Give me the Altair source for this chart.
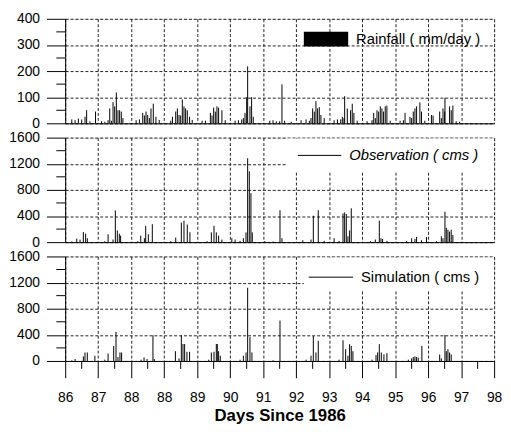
import json
import altair as alt
import pandas as pd

# ---------------- data ----------------
X_LABELS = ["86", "87", "88", "88", "89", "90", "91", "92", "93", "94", "95", "96", "97", "98"]
X_MAJOR = [0, 1, 2, 3, 4, 5, 6, 7, 8, 9, 10, 11, 12, 13]
X_MINOR = [0.5, 1.5, 2.5, 3.5, 4.5, 5.5, 6.5, 7.5, 8.5, 9.5, 10.5, 11.5, 12.5]

RAIN_Y_TICKS = [0, 100, 200, 300, 400]
RAIN_Y_MINOR = [50, 150, 250, 350]
FLOW_Y_TICKS = [0, 400, 800, 1200, 1600]
FLOW_Y_MINOR = [200, 600, 1000, 1400]

# rainfall spikes: position (in year intervals from the first tick) and mm/day
RAIN_U = [0.2, 0.3, 0.4, 0.5, 0.6, 0.65, 0.75, 0.92,
          1.1, 1.2, 1.3, 1.35, 1.4, 1.45, 1.5, 1.55, 1.6, 1.65, 1.7, 1.75,
          2.15, 2.25, 2.35, 2.4, 2.45, 2.5, 2.55, 2.6, 2.67, 2.75, 2.85,
          3.2, 3.25, 3.35, 3.4, 3.45, 3.5, 3.55, 3.6, 3.65, 3.7, 3.77, 3.85,
          4.15, 4.25, 4.4, 4.45, 4.5, 4.55, 4.6, 4.65, 4.75, 4.85,
          5.15, 5.25, 5.35, 5.4, 5.45, 5.5, 5.53, 5.6, 5.65, 5.7,
          6.2, 6.3, 6.4, 6.5, 6.57, 6.65, 6.85,
          7.15, 7.3, 7.4, 7.45, 7.5, 7.55, 7.6, 7.65, 7.7, 7.75, 7.85,
          8.15, 8.25, 8.35, 8.4, 8.45, 8.47, 8.55, 8.65, 8.7, 8.75, 8.85,
          9.15, 9.3, 9.35, 9.4, 9.45, 9.5, 9.55, 9.6, 9.65, 9.7, 9.75, 9.85,
          10.15, 10.25, 10.3, 10.45, 10.5, 10.55, 10.6, 10.65, 10.75, 10.8, 10.9,
          11.1, 11.15, 11.35, 11.4, 11.45, 11.5, 11.51, 11.65, 11.7, 11.75, 11.85, 11.95]
RAIN_V = [15, 12, 18, 15, 25, 50, 8, 45,
          8, 6, 12, 57, 10, 81, 65, 118, 50, 50, 45, 20,
          12, 15, 40, 30, 45, 32, 20, 57, 75, 25, 13,
          10, 25, 45, 57, 32, 30, 91, 65, 57, 50, 25, 13,
          10, 10, 40, 30, 60, 45, 65, 60, 50, 12,
          10, 12, 15, 20, 40, 100, 218, 65, 100, 25,
          10, 12, 8, 8, 149, 10, 6,
          12, 15, 10, 20, 57, 45, 85, 57, 62, 32, 20,
          12, 15, 15, 25, 20, 104, 57, 50, 75, 40, 10,
          8, 12, 40, 20, 50, 45, 65, 57, 45, 65, 68, 10,
          10, 12, 40, 25, 20, 45, 57, 65, 80, 45, 10,
          32, 30, 45, 20, 57, 45, 98, 65, 50, 68, 8, 6]

# observed discharge spikes (cms)
OBS_U = [0.2, 0.35, 0.45, 0.55, 0.62, 0.67,
         1.2, 1.3, 1.45, 1.52, 1.58, 1.64, 1.68,
         2.2, 2.29, 2.4, 2.44, 2.52, 2.64,
         3.2, 3.35, 3.52, 3.6, 3.7, 3.78,
         4.3, 4.43, 4.51, 4.58, 4.65, 4.75, 5.05, 5.15,
         5.3, 5.4, 5.48, 5.53, 5.58, 5.63, 5.67,
         6.05, 6.3, 6.51, 6.57,
         7.2, 7.45, 7.52, 7.67, 7.85,
         8.15, 8.3, 8.42, 8.47, 8.52, 8.57, 8.62, 8.67,
         9.25, 9.4, 9.52, 9.57, 9.62, 9.75,
         10.35, 10.5, 10.6, 10.65, 10.8, 10.95,
         11.25, 11.4, 11.45, 11.51, 11.55, 11.6, 11.65, 11.7, 11.75]
OBS_V = [10, 55, 40, 154, 130, 60,
         15, 120, 40, 485, 180, 130, 100,
         15, 100, 60, 250, 120, 275,
         15, 70, 300, 330, 270, 150,
         15, 150, 250, 150, 100, 40, 60, 40,
         20, 60, 150, 1284, 1085, 750, 150,
         15, 10, 489, 60,
         30, 40, 404, 489, 20,
         60, 20, 440, 455, 430, 90, 180, 518,
         15, 40, 330, 60, 50, 20,
         15, 60, 50, 80, 30, 80,
         15, 90, 60, 465, 220, 190, 160, 190, 110]

# simulated discharge spikes (cms)
SIM_U = [0.2, 0.3, 0.55, 0.6, 0.67, 0.9,
         1.2, 1.3, 1.47, 1.54, 1.6, 1.66, 1.71,
         2.3, 2.39, 2.48, 2.66, 2.7,
         3.34, 3.45, 3.52, 3.57, 3.62, 3.69, 3.77,
         4.35, 4.43, 4.51, 4.58, 4.61, 4.65, 4.7,
         5.3, 5.4, 5.48, 5.53, 5.6, 5.66,
         6.3, 6.51,
         7.3, 7.45, 7.52, 7.6, 7.67,
         8.3, 8.42, 8.5, 8.57, 8.62, 8.67, 8.72,
         9.3, 9.42, 9.47, 9.52, 9.58, 9.66, 9.75,
         10.4, 10.5, 10.55, 10.6, 10.65, 10.7, 10.81,
         11.35, 11.4, 11.51, 11.55, 11.6, 11.65, 11.7]
SIM_V = [10, 30, 70, 130, 130, 80,
         20, 115, 230, 445, 60, 130, 130,
         20, 55, 30, 392, 30,
         150, 40, 392, 260, 260, 140, 140,
         20, 130, 140, 260, 260, 150, 80,
         20, 80, 130, 1121, 365, 130,
         10, 618,
         20, 80, 382, 130, 307,
         20, 317, 180, 80, 257, 231, 150,
         20, 90, 131, 257, 130, 100, 120,
         20, 40, 60, 70, 60, 50, 231,
         100, 40, 397, 150, 180, 130, 100]

LEGEND_RAIN = "Rainfall ( mm/day )"
LEGEND_OBS = "Observation ( cms )"
LEGEND_SIM = "Simulation ( cms )"
X_TITLE = "Days Since 1986"

FONT = "Liberation Sans"
W, H = 435, 106
GRID = dict(grid=True, gridDash=[3, 2], gridColor="#222222", gridWidth=1, gridOpacity=1)

label_expr = json.dumps(X_LABELS) + "[datum.value]"


def x_axis(bottom):
    if bottom:
        return alt.Axis(values=X_MAJOR, labelExpr=label_expr, tickSize=17, tickColor="black",
                        labelPadding=13, labelFontSize=14, labelFont=FONT, labelColor="black",
                        labelOverlap=False, labelFlush=False, title=X_TITLE, titleFont=FONT,
                        titleFontSize=17, titleFontWeight="bold", titleColor="black",
                        titlePadding=3, domainColor="black", **GRID)
    return alt.Axis(values=X_MAJOR, labels=False, ticks=False, title=None,
                    domainColor="black", **GRID)


def one_row(text=""):
    return pd.DataFrame({"t": [text]})


def panel(u, v, ydom, yticks, yminor, bottom, legend):
    xs = alt.Scale(domain=[0, 13], nice=False, zero=False)
    ys = alt.Scale(domain=ydom, nice=False)
    xa = x_axis(bottom)
    ya = alt.Axis(values=yticks, format="d", tickSize=19, tickColor="black", labelPadding=7,
                  labelFontSize=14, labelFont=FONT, labelColor="black", title=None,
                  labelFlush=False, domainColor="black", **GRID)

    layers = []
    if legend["box"] is not None:
        bx0, by1 = legend["box"]
        layers.append(alt.Chart(one_row()).mark_rect(fill="white", strokeWidth=0).encode(
            x=alt.value(bx0), x2=alt.value(W - 1), y=alt.value(1), y2=alt.value(by1)))

    spikes = alt.Chart(pd.DataFrame({"u": u, "v": v})).mark_rule(
        color="black", strokeWidth=1).encode(
        x=alt.X("u:Q", scale=xs, axis=xa),
        y=alt.Y("v:Q", scale=ys, axis=ya),
        y2=alt.datum(0))
    layers.append(spikes)

    minor_y = alt.Chart(pd.DataFrame({"v": yminor})).mark_rule(
        color="black", strokeWidth=1).encode(
        y=alt.Y("v:Q", scale=ys, axis=ya), x=alt.value(-9), x2=alt.value(0))
    layers.append(minor_y)

    if bottom:
        minor_x = alt.Chart(pd.DataFrame({"u": X_MINOR})).mark_rule(
            color="black", strokeWidth=1).encode(
            x=alt.X("u:Q", scale=xs, axis=xa), y=alt.value(H), y2=alt.value(H + 8))
        layers.append(minor_x)

    sx0, sx1, sy = legend["sym"]
    if legend["kind"] == "rect":
        layers.append(alt.Chart(one_row()).mark_rect(color="black").encode(
            x=alt.value(sx0), x2=alt.value(sx1), y=alt.value(sy - 7.5), y2=alt.value(sy + 7.5)))
    else:
        layers.append(alt.Chart(one_row()).mark_rule(color="black", strokeWidth=1).encode(
            x=alt.value(sx0), x2=alt.value(sx1), y=alt.value(sy)))

    tx, ty = legend["text"]
    layers.append(alt.Chart(one_row(legend["label"])).mark_text(
        align="left", baseline="middle", font=FONT, fontSize=15, color="black",
        fontStyle=legend["style"]).encode(
        x=alt.value(tx), y=alt.value(ty), text="t:N"))

    return alt.layer(*layers).properties(width=W, height=H)


p1 = panel(RAIN_U, RAIN_V, [0, 400], RAIN_Y_TICKS, RAIN_Y_MINOR, False,
           dict(box=None, kind="rect", sym=(242, 287, 20.5), text=(295, 21),
                label=LEGEND_RAIN, style="normal"))
p2 = panel(OBS_U, OBS_V, [0, 1600], FLOW_Y_TICKS, FLOW_Y_MINOR, False,
           dict(box=(225, 35), kind="line", sym=(236, 280, 18), text=(288, 18),
                label=LEGEND_OBS, style="italic"))
p3 = panel(SIM_U, SIM_V, [0, 1600], FLOW_Y_TICKS, FLOW_Y_MINOR, True,
           dict(box=(242, 34), kind="line", sym=(247, 292, 21), text=(300, 21),
                label=LEGEND_SIM, style="normal"))

chart = alt.vconcat(p1, p2, p3, spacing=14.5, bounds="flush").resolve_scale(
    x="independent", y="independent"
).properties(padding=0, background="white").configure_view(
    stroke="black", strokeWidth=1
).configure(font=FONT)

chart.save("out.html", embed_options={"renderer": "svg", "actions": False})
